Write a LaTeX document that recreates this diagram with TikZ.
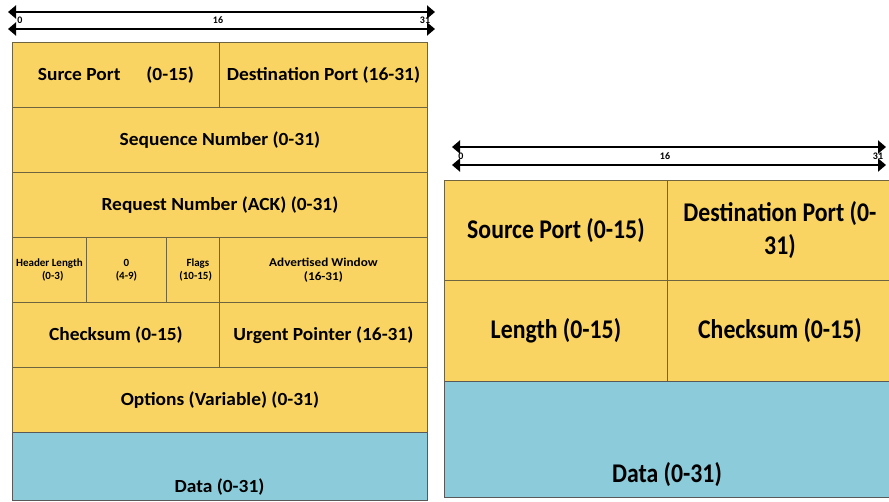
\documentclass[tikz,border=0pt]{standalone}
\usepackage{fontspec}
\setmainfont{Carlito}
\newfontfamily\widefont{Carlito}[FakeStretch=1.05]
\newfontfamily\widerfont{Carlito}[FakeStretch=1.1]
\newfontfamily\narrowfont{Carlito}[FakeStretch=0.88]
\usetikzlibrary{arrows.meta}
\definecolor{yel}{HTML}{F9D462}
\definecolor{blu}{HTML}{8CCBD9}
\definecolor{bord}{HTML}{6E6440}
\tikzset{
  cell/.style={draw=bord, fill=yel, line width=0.9pt, inner sep=0pt, anchor=north west, align=center, font=\bfseries},
  datacell/.style={cell, fill=blu, draw=gray!70!black},
  bitarrow/.style={line width=2.6pt, {Triangle[length=8pt,width=13pt]}-{Triangle[length=8pt,width=13pt]}},
  bitlabel/.style={font=\bfseries\fontsize{10}{11}\selectfont, inner sep=0pt},
  bigtxt/.style={font=\widefont\bfseries\fontsize{18.5}{22}\selectfont},
  smalltxt/.style={font=\bfseries\fontsize{11}{13}\selectfont},
  widesmall/.style={font=\widerfont\bfseries\fontsize{12}{14}\selectfont},
  rtxt/.style={font=\narrowfont\bfseries\fontsize{27}{33}\selectfont}
}
\begin{document}
\begin{tikzpicture}[x=1pt,y=-1pt]
\useasboundingbox (0,0) rectangle (889,501);
% ---------- left: TCP header ----------
\coordinate (la1) at (8,12);  \coordinate (la2) at (435,12);
\coordinate (lb1) at (8,29);  \coordinate (lb2) at (435,29);
\draw[bitarrow] (la1) -- (la2);
\draw[bitarrow] (lb1) -- (lb2);
\node[bitlabel] (l0) at (20,20.5) {0};
\node[bitlabel] (l16) at (218,20.5) {16};
\node[bitlabel] (l31) at (425,20.5) {31};

\node[cell, bigtxt, minimum width=207pt, minimum height=65pt] (sp) at (12,42) {Surce Port\hspace{1.4em}(0-15)};
\node[cell, bigtxt, minimum width=208pt, minimum height=65pt] (dp) at (219,42) {Destination Port (16-31)};
\node[cell, bigtxt, minimum width=415pt, minimum height=65pt] (seq) at (12,107) {Sequence Number (0-31)};
\node[cell, bigtxt, minimum width=415pt, minimum height=65pt] (ack) at (12,172) {Request Number (ACK) (0-31)};
\node[cell, smalltxt, minimum width=74pt, minimum height=65pt] (hl) at (12,237) {Header Length\\\hspace{0.6em}(0-3)};
\node[cell, smalltxt, minimum width=80pt, minimum height=65pt] (zero) at (86,237) {0\\(4-9)};
\node[cell, smalltxt, minimum width=53pt, minimum height=65pt] (flg) at (166,237) {\hspace{0.9em}Flags\\\hspace{0.5em}(10-15)};
\node[cell, widesmall, minimum width=208pt, minimum height=65pt] (aw) at (219,237) {Advertised Window\\(16-31)};
\node[cell, bigtxt, minimum width=207pt, minimum height=65pt] (cks) at (12,302) {Checksum (0-15)};
\node[cell, bigtxt, minimum width=208pt, minimum height=65pt] (urg) at (219,302) {Urgent Pointer (16-31)};
\node[cell, bigtxt, minimum width=415pt, minimum height=65pt] (opt) at (12,367) {Options (Variable) (0-31)};
\node[datacell, minimum width=415pt, minimum height=68pt] (ldata) at (12,432) {};
\node[bigtxt] (ldatat) at (219.5,487) {Data (0-31)};

% ---------- right: UDP header ----------
\coordinate (ra1) at (452,147); \coordinate (ra2) at (886,147);
\coordinate (rb1) at (452,165); \coordinate (rb2) at (886,165);
\draw[bitarrow] (ra1) -- (ra2);
\draw[bitarrow] (rb1) -- (rb2);
\node[bitlabel] (r0) at (461,156.5) {0};
\node[bitlabel] (r16) at (665,156.5) {16};
\node[bitlabel] (r31) at (878,156.5) {31};

\node[cell, rtxt, minimum width=223pt, minimum height=100pt] (rsp) at (444,180) {Source Port (0-15)};
\node[cell, rtxt, minimum width=225pt, minimum height=100pt] (rdp) at (667,180) {Destination Port (0-\\31)};
\node[cell, rtxt, minimum width=223pt, minimum height=101pt] (rlen) at (444,280) {Length (0-15)};
\node[cell, rtxt, minimum width=225pt, minimum height=101pt] (rcks) at (667,280) {Checksum (0-15)};
\node[datacell, minimum width=448pt, minimum height=116pt] (rdata) at (444,381) {};
\node[rtxt] (rdatat) at (667,475) {Data (0-31)};
\end{tikzpicture}
\end{document}
